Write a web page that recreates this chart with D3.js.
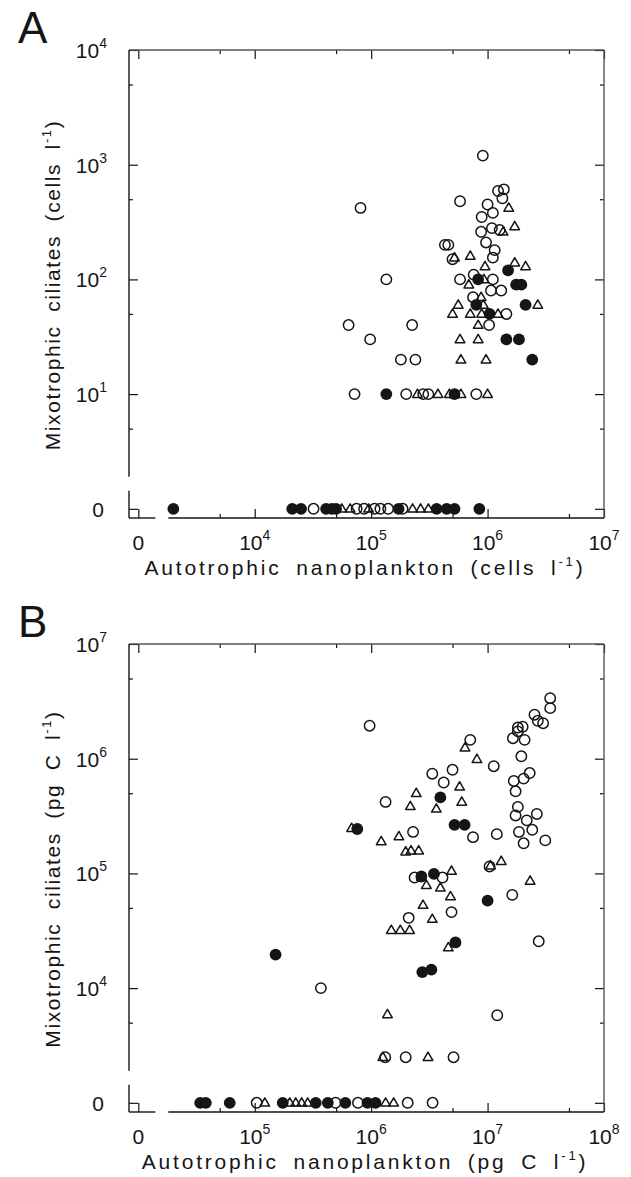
<!DOCTYPE html>
<html>
<head>
<meta charset="utf-8">
<script src="https://cdnjs.cloudflare.com/ajax/libs/d3/7.8.5/d3.min.js"></script>
<style>
body { margin: 0; background: #fff; }
svg { display: block; font-family: "Liberation Sans", Arial, sans-serif; }
</style>
</head>
<body>
<script>
// panel A: cells per litre  [nanoplankton, ciliates]; 0 = none found
var aOpen = [
    [9.1e5, 1200], [8.1e4, 420], [5.8e5, 480], [1.23e6, 590], [1.38e6, 610], [1.34e6, 510],
    [1.0e6, 450], [1.11e6, 380], [8.9e5, 350], [1.09e6, 280], [1.27e6, 270], [8.8e5, 260],
    [9.7e5, 210], [1.15e6, 180], [1.11e6, 155], [4.3e5, 200], [4.6e5, 200], [5.0e5, 150],
    [7.6e5, 110], [5.8e5, 100], [1.11e6, 100], [1.07e6, 80], [1.31e6, 80], [7.5e5, 70],
    [1.45e6, 50], [1.03e6, 40], [6.4e4, 40], [2.25e5, 40], [9.8e4, 30], [1.8e5, 20],
    [2.4e5, 20], [1.35e5, 100],
    [7.2e4, 10], [2.0e5, 10], [2.8e5, 10], [3.1e5, 10], [8.0e5, 10],
    [3.2e4, 0], [7.5e4, 0], [8.7e4, 0], [1.07e5, 0], [1.2e5, 0], [1.4e5, 0], [1.86e5, 0]
];
var aTri = [
    [1.52e6, 420], [1.71e6, 290], [1.36e6, 260], [5.2e5, 155], [7.1e5, 160], [9.5e5, 130],
    [1.71e6, 140], [2.12e6, 130], [6.9e5, 90], [9.3e5, 100], [8.8e5, 70], [5.6e5, 60],
    [9.2e5, 60], [2.7e6, 60], [5.0e5, 50], [7.1e5, 50], [8.9e5, 50], [1.23e6, 50],
    [8.3e5, 40], [5.8e5, 30], [8.3e5, 30], [5.9e5, 20], [9.7e5, 20],
    [2.5e5, 10], [3.75e5, 10], [4.7e5, 10], [5.2e5, 10], [5.9e5, 10], [1.0e6, 10],
    [5.6e4, 0], [6.6e4, 0], [9.5e4, 0], [2.27e5, 0], [2.66e5, 0], [3.1e5, 0]
];
var aFilled = [
    [1.5e6, 120], [1.76e6, 90], [1.95e6, 90], [8.3e5, 100], [8.0e5, 60], [1.04e6, 50],
    [2.12e6, 60], [1.45e6, 30], [1.86e6, 30], [2.42e6, 20],
    [1.35e5, 10], [5.2e5, 10],
    [2.0e3, 0], [2.1e4, 0], [2.5e4, 0], [4.1e4, 0], [4.6e4, 0], [5.0e4, 0], [1.72e5, 0],
    [3.65e5, 0], [4.45e5, 0], [5.2e5, 0], [8.5e5, 0]
];

// panel B: pg C per litre
var bOpen = [
    [9.7e5, 1.94e6], [3.45e7, 3.37e6], [3.45e7, 2.76e6], [2.53e7, 2.42e6], [2.7e7, 2.14e6],
    [3.0e7, 2.04e6], [1.82e7, 1.87e6], [2.0e7, 1.9e6], [1.82e7, 1.73e6], [1.65e7, 1.51e6],
    [2.08e7, 1.46e6], [7.1e6, 1.46e6], [1.95e7, 1.05e6], [1.13e7, 8.6e5], [2.3e7, 7.5e5],
    [2.04e7, 6.7e5], [1.68e7, 6.4e5], [1.74e7, 5.2e5], [3.35e6, 7.4e5], [5.0e6, 8.0e5],
    [4.2e6, 6.2e5], [1.33e6, 4.2e5], [1.82e7, 3.8e5], [1.74e7, 3.2e5], [2.65e7, 3.3e5],
    [2.17e7, 2.9e5], [2.42e7, 2.4e5], [1.86e7, 2.3e5], [2.04e7, 1.83e5], [3.13e7, 1.94e5],
    [1.2e7, 2.2e5], [7.5e6, 2.07e5], [2.29e6, 2.3e5], [1.04e7, 1.15e5], [2.36e6, 9.2e4],
    [4.1e6, 9.2e4], [1.63e7, 6.5e4], [4.9e6, 4.6e4], [2.1e6, 4.1e4], [2.75e7, 2.56e4],
    [1.21e7, 5.8e3], [3.7e5, 1.0e4],
    [1.32e6, 2500], [1.98e6, 2500], [5.1e6, 2500],
    [1.04e5, 0], [4.95e5, 0], [7.7e5, 0], [2.06e6, 0], [3.37e6, 0]
];
var bTri = [
    [6.4e6, 1.25e6], [8.1e6, 9.9e5], [2.44e6, 5.0e5], [5.75e6, 5.7e5], [2.17e6, 3.85e5],
    [3.63e6, 3.66e5], [6.0e6, 4.2e5], [6.8e5, 2.48e5], [1.22e6, 1.9e5], [1.73e6, 2.1e5],
    [1.98e6, 1.55e5], [2.2e6, 1.58e5], [2.56e6, 1.58e5], [1.31e7, 1.28e5], [1.06e7, 1.17e5],
    [4.9e6, 1.05e5], [2.98e6, 7.9e4], [3.93e6, 7.5e4], [2.32e7, 8.6e4], [4.8e6, 6.3e4],
    [2.79e6, 5.3e4], [3.35e6, 4.0e4], [1.49e6, 3.2e4], [1.78e6, 3.2e4], [2.14e6, 3.2e4],
    [4.6e6, 2.26e4], [1.38e6, 5.9e3], [2.7e6, 9.3e4],
    [1.26e6, 2500], [3.08e6, 2500],
    [1.22e5, 0], [2.0e5, 0], [2.25e5, 0], [2.53e5, 0], [2.85e5, 0], [1.33e6, 0], [1.56e6, 0]
];
var bFilled = [
    [7.6e5, 2.44e5], [3.93e6, 4.6e5], [5.2e6, 2.65e5], [6.35e6, 2.65e5], [3.46e6, 9.9e4],
    [2.7e6, 9.4e4], [1.0e7, 5.8e4], [5.3e6, 2.5e4], [2.75e6, 1.38e4], [3.29e6, 1.45e4],
    [1.51e5, 1.96e4],
    [3.4e4, 0], [3.8e4, 0], [6.1e4, 0], [1.74e5, 0], [3.34e5, 0], [4.24e5, 0], [6.0e5, 0],
    [9.3e5, 0], [1.09e6, 0]
];

// tick exponents; the "0" tick sits one decade below the first labelled one
var aXExps = [4, 5, 6, 7];
var aYExps = [1, 2, 3, 4];
var bXExps = [5, 6, 7, 8];
var bYExps = [4, 5, 6, 7];

var w = 631;
var h = 1177;
var ink = "#151515";

var svg = d3.select("body")
    .append("svg")
    .attr("width", w)
    .attr("height", h);

var drawPanel = function (p) {
    var g = svg.append("g");
    var left = 129, right = 604;
    var top = p.bottom - 468;

    var xZero = Math.pow(10, p.xExps[0] - 1);
    var yZero = Math.pow(10, p.yExps[0] - 1);

    var x = d3.scaleLog()
        .domain([xZero / Math.pow(10, 0.08), Math.pow(10, p.xExps[p.xExps.length - 1])])
        .range([left, right]);
    var y = d3.scaleLog()
        .domain([yZero / Math.pow(10, 0.08), Math.pow(10, p.yExps[p.yExps.length - 1])])
        .range([p.bottom, top]);

    var yPos = (v) => { return v === 0 ? y(yZero) : y(v) };

    var majors = (exps, zero) => [zero].concat(exps.map((e) => Math.pow(10, e)));
    var minors = (exps, zero) => [zero * 5].concat(exps.slice(0, -1).map((e) => 5 * Math.pow(10, e)));

    var addTicks = function (axis, tx, ty, values, size) {
        var a = g.append("g")
            .attr("transform", "translate(" + tx + "," + ty + ")")
            .call(axis.tickValues(values).tickSize(-size).tickFormat(""));
        a.select(".domain").remove();
        a.selectAll(".tick line").attr("stroke", ink).attr("stroke-width", 1.2);
    };

    var xMaj = majors(p.xExps, xZero), xMin = minors(p.xExps, xZero);
    var yMaj = majors(p.yExps, yZero), yMin = minors(p.yExps, yZero);

    addTicks(d3.axisBottom(x), 0, p.bottom, xMaj, 9);
    addTicks(d3.axisBottom(x), 0, p.bottom, xMin, 4);
    addTicks(d3.axisTop(x), 0, top, xMaj, 9);
    addTicks(d3.axisTop(x), 0, top, xMin, 4);
    addTicks(d3.axisLeft(y), left, 0, yMaj, 9);
    addTicks(d3.axisLeft(y), left, 0, yMin, 4);
    addTicks(d3.axisRight(y), right, 0, yMaj, 9);
    addTicks(d3.axisRight(y), right, 0, yMin, 4);

    // frame, with the breaks that split off the zero row / column
    var x0 = x(xZero), y0 = y(yZero);
    var frame = [
        [left, top, right, top],
        [right, top, right, p.bottom],
        [left, p.bottom, x0 + 17, p.bottom],
        [x0 + 30, p.bottom, right, p.bottom],
        [left, top, left, y0 - 32],
        [left, y0 - 18, left, p.bottom]
    ];
    g.selectAll(".frame")
        .data(frame)
        .enter()
        .append("line")
        .attr("x1", (d) => d[0]).attr("y1", (d) => d[1])
        .attr("x2", (d) => d[2]).attr("y2", (d) => d[3])
        .attr("stroke", (d, i) => { return i < 2 ? "#555" : ink })
        .attr("stroke-width", 1.4);

    // tick labels
    var xl = g.selectAll(".xl")
        .data(p.xExps)
        .enter()
        .append("text")
        .attr("x", (d) => x(Math.pow(10, d)))
        .attr("y", p.bottom + 32)
        .attr("text-anchor", "middle")
        .attr("font-size", 21)
        .attr("fill", ink);
    xl.append("tspan").text("10");
    xl.append("tspan").attr("dy", -10).attr("font-size", 14).text((d) => d);

    g.append("text")
        .attr("x", x0).attr("y", p.bottom + 32)
        .attr("text-anchor", "middle").attr("font-size", 21).attr("fill", ink)
        .text("0");

    var yl = g.selectAll(".yl")
        .data(p.yExps)
        .enter()
        .append("text")
        .attr("x", left - 22)
        .attr("y", (d) => y(Math.pow(10, d)) + 8)
        .attr("text-anchor", "end")
        .attr("font-size", 21)
        .attr("fill", ink);
    yl.append("tspan").text("10");
    yl.append("tspan").attr("dy", -10).attr("font-size", 14).text((d) => d);

    g.append("text")
        .attr("x", left - 25).attr("y", y0 + 8)
        .attr("text-anchor", "end").attr("font-size", 21).attr("fill", ink)
        .text("0");

    // axis titles
    var addTitle = function (t, label, spacing) {
        t.attr("text-anchor", "middle")
            .attr("font-size", 21)
            .attr("fill", ink)
            .style("letter-spacing", spacing + "px")
            .style("word-spacing", "6px");
        t.append("tspan").text(label);
        t.append("tspan").attr("dy", -9).attr("font-size", 13).text("-1");
        t.append("tspan").attr("dy", 9).text(")");
    };
    addTitle(g.append("text").attr("x", 365).attr("y", p.bottom + 57), p.xTitle, 2.8);
    addTitle(g.append("text").attr("transform", "translate(" + 60 + "," + (top + 235) + ") rotate(-90)"), p.yTitle, 1.6);

    g.append("text")
        .attr("x", 18).attr("y", top - 7)
        .attr("font-size", 44).attr("fill", ink)
        .text(p.letter);

    // markers
    g.selectAll(".open")
        .data(p.open)
        .enter()
        .append("circle")
        .attr("cx", (d) => x(d[0]))
        .attr("cy", (d) => yPos(d[1]))
        .attr("r", 5.2)
        .attr("fill", "none")
        .attr("stroke", ink)
        .attr("stroke-width", 1.5);

    g.selectAll(".tri")
        .data(p.tri)
        .enter()
        .append("path")
        .attr("d", "M0,-5L4.8,3.3L-4.8,3.3Z")
        .attr("transform", (d) => "translate(" + x(d[0]) + "," + yPos(d[1]) + ")")
        .attr("fill", "none")
        .attr("stroke", ink)
        .attr("stroke-width", 1.5)
        .attr("stroke-linejoin", "round");

    g.selectAll(".filled")
        .data(p.filled)
        .enter()
        .append("circle")
        .attr("cx", (d) => x(d[0]))
        .attr("cy", (d) => yPos(d[1]))
        .attr("r", 5.9)
        .attr("fill", ink);
}

drawPanel({
    letter: "A", bottom: 518,
    xExps: aXExps, yExps: aYExps,
    open: aOpen, tri: aTri, filled: aFilled,
    xTitle: "Autotrophic nanoplankton (cells l",
    yTitle: "Mixotrophic ciliates (cells l"
});

drawPanel({
    letter: "B", bottom: 1112,
    xExps: bXExps, yExps: bYExps,
    open: bOpen, tri: bTri, filled: bFilled,
    xTitle: "Autotrophic nanoplankton (pg C l",
    yTitle: "Mixotrophic ciliates (pg C l"
});
</script>
</body>
</html>
